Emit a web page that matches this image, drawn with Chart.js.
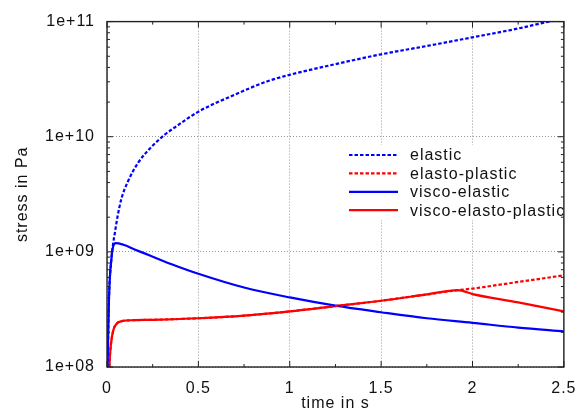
<!DOCTYPE html>
<html>
<head>
<meta charset="utf-8">
<script src="https://cdn.jsdelivr.net/npm/chart.js@4.4.1/dist/chart.umd.min.js"></script>
<style>
  html, body { margin: 0; padding: 0; background: #fff; }
  #chart { display: block; }
</style>
</head>
<body>
<canvas id="chart" width="587" height="413"></canvas>
<script>
// Stress response (Pa) over time (s) for four material models.
const elasticTime = [0.003, 0.011, 0.025, 0.034, 0.043, 0.0575, 0.079, 0.115, 0.169, 0.241, 0.3125, 0.3755, 0.5, 0.68, 0.878, 1.0, 1.25, 1.5, 1.75, 2.0, 2.25, 2.42, 2.5]
const elasticStress = [1.0e8, 4.0e8, 9.0e8, 1.19e9, 1.46e9, 2.02e9, 2.9e9, 4.1e9, 5.9e9, 8.1e9, 1.03e10, 1.22e10, 1.65e10, 2.25e10, 3.03e10, 3.45e10, 4.27e10, 5.2e10, 6.14e10, 7.3e10, 8.71e10, 1.0e11, 1.05e11]

const viscoElasticTime = [0.003, 0.011, 0.025, 0.034, 0.0485, 0.17, 0.35, 0.5, 0.75, 1.0, 1.25, 1.5, 1.75, 2.0, 2.25, 2.5]
const viscoElasticStress = [1.0e8, 4.0e8, 9.0e8, 1.12e9, 1.19e9, 1.02e9, 7.85e8, 6.45e8, 4.9e8, 4.02e8, 3.41e8, 2.99e8, 2.65e8, 2.42e8, 2.2e8, 2.04e8]

const viscoPlasticTime = [0.013, 0.016, 0.022, 0.034, 0.052, 0.08, 0.15, 0.25, 0.5, 0.75, 1.0, 1.25, 1.5, 1.75, 1.92, 2.0, 2.25, 2.5]
const viscoPlasticStress = [1.0e8, 1.25e8, 1.6e8, 2.07e8, 2.37e8, 2.5e8, 2.55e8, 2.57e8, 2.65e8, 2.79e8, 3.04e8, 3.38e8, 3.76e8, 4.27e8, 4.65e8, 4.3e8, 3.64e8, 3.04e8]

// elasto-plastic follows the visco-elasto-plastic curve up to t = 1.92 s
const elastoPlasticTime = [0.013, 0.016, 0.022, 0.034, 0.052, 0.08, 0.15, 0.25, 0.5, 0.75, 1.0, 1.25, 1.5, 1.75, 1.92, 2.0, 2.25, 2.5]
const elastoPlasticStress = [1.0e8, 1.25e8, 1.6e8, 2.07e8, 2.37e8, 2.5e8, 2.55e8, 2.57e8, 2.65e8, 2.79e8, 3.04e8, 3.38e8, 3.76e8, 4.27e8, 4.65e8, 4.8e8, 5.48e8, 6.25e8]

const seriesLabels = ["elastic", "elasto-plastic", "visco-elastic", "visco-elasto-plastic"]

const xTicks = [0, 0.5, 1, 1.5, 2, 2.5]
const yTicks = [1e8, 1e9, 1e10, 1e11]
const yTickLabels = ["1e+08", "1e+09", "1e+10", "1e+11"]

const BLUE = "rgb(0, 0, 255)"
const RED = "rgb(255, 0, 0)"
const FONT = { family: "\"Liberation Sans\", Arial, sans-serif", size: 16 }
const TEXT = "#111"

const points = (xs, ys) => xs.map((x, i) => ({ x, y: ys[i] }))

function series (label, xs, ys, color, dashed) {
  return {
    label,
    data: points(xs, ys),
    borderColor: color,
    backgroundColor: color,
    borderWidth: 2.2,
    borderDash: dashed ? [3.5, 2] : [],
    pointRadius: 0,
    cubicInterpolationMode: "monotone",
    fill: false
  }
}

// gnuplot-like text runs a little wider than plain Arial
const spacingPlugin = {
  id: "spacing",
  beforeDraw (chart) {
    chart.ctx.letterSpacing = "1px"
  }
}

// Key drawn inside the plot, on a white box over the grid.
const keyPlugin = {
  id: "key",
  afterDatasetsDraw (chart, args, opts) {
    const { ctx } = chart
    ctx.save()
    ctx.fillStyle = "#fff"
    ctx.fillRect(opts.boxLeft, opts.boxTop, opts.boxWidth, opts.boxHeight)
    ctx.font = `${FONT.size}px ${FONT.family}`
    ctx.textBaseline = "middle"
    ctx.textAlign = "left"
    chart.data.datasets.forEach((ds, i) => {
      const y = opts.y + i * opts.rowHeight
      ctx.beginPath()
      ctx.strokeStyle = ds.borderColor
      ctx.lineWidth = ds.borderWidth
      ctx.setLineDash(ds.borderDash)
      ctx.moveTo(opts.lineStart, y)
      ctx.lineTo(opts.lineEnd, y)
      ctx.stroke()
      ctx.setLineDash([])
      ctx.fillStyle = TEXT
      ctx.fillText(ds.label, opts.textX, y + 1)
    })
    ctx.restore()
  }
}

// Box border with inward major and minor tick marks on all four sides.
const framePlugin = {
  id: "frame",
  afterDraw (chart) {
    const { ctx, chartArea } = chart
    const { left, right, top, bottom } = chartArea
    const xs = chart.scales.x
    const ys = chart.scales.y
    const major = 6
    const minor = 3

    ctx.save()
    ctx.strokeStyle = "#222"
    ctx.lineWidth = 1

    ctx.beginPath()
    const xMinor = xTicks.slice(1).map((v, i) => (v + xTicks[i]) / 2)
    xTicks.forEach(v => {
      const px = xs.getPixelForValue(v)
      ctx.moveTo(px, bottom); ctx.lineTo(px, bottom - major)
      ctx.moveTo(px, top); ctx.lineTo(px, top + major)
    })
    xMinor.forEach(v => {
      const px = xs.getPixelForValue(v)
      ctx.moveTo(px, bottom); ctx.lineTo(px, bottom - minor)
      ctx.moveTo(px, top); ctx.lineTo(px, top + minor)
    })
    yTicks.forEach(v => {
      const py = ys.getPixelForValue(v)
      ctx.moveTo(left, py); ctx.lineTo(left + major, py)
      ctx.moveTo(right, py); ctx.lineTo(right - major, py)
    })
    yTicks.slice(0, -1).forEach(decade => {
      for (let k = 2; k <= 9; k++) {
        const py = ys.getPixelForValue(decade * k)
        ctx.moveTo(left, py); ctx.lineTo(left + minor, py)
        ctx.moveTo(right, py); ctx.lineTo(right - minor, py)
      }
    })
    ctx.stroke()

    ctx.lineWidth = 1.4
    ctx.strokeRect(left, top, right - left, bottom - top)
    ctx.restore()
  }
}

new Chart(document.getElementById("chart").getContext("2d"), {
  type: "line",
  data: {
    datasets: [
      series(seriesLabels[0], elasticTime, elasticStress, BLUE, true),
      series(seriesLabels[1], elastoPlasticTime, elastoPlasticStress, RED, true),
      series(seriesLabels[2], viscoElasticTime, viscoElasticStress, BLUE, false),
      series(seriesLabels[3], viscoPlasticTime, viscoPlasticStress, RED, false)
    ]
  },
  options: {
    responsive: false,
    animation: false,
    events: [],
    layout: { padding: { top: 18, right: 16, left: 0, bottom: 0 } },
    plugins: {
      legend: { display: false },
      tooltip: { enabled: false },
      key: {
        boxLeft: 343, boxTop: 145, boxWidth: 227, boxHeight: 75,
        y: 155, rowHeight: 18.4, lineStart: 349, lineEnd: 398, textX: 410
      }
    },
    scales: {
      x: {
        type: "linear",
        min: 0,
        max: 2.5,
        afterBuildTicks: scale => { scale.ticks = xTicks.map(value => ({ value })) },
        afterFit: scale => { scale.height = 46 },
        ticks: {
          autoSkip: false,
          maxRotation: 0,
          padding: 12,
          color: TEXT,
          font: FONT,
          callback: value => String(value)
        },
        grid: { color: "rgba(140, 140, 140, 0.9)", lineWidth: 1, drawTicks: false },
        border: { display: false, dash: [1, 2] },
        title: {
          display: true,
          text: "time in s",
          color: TEXT,
          font: FONT,
          padding: { top: 0, bottom: 0 }
        }
      },
      y: {
        type: "logarithmic",
        min: 1e8,
        max: 1e11,
        afterBuildTicks: scale => { scale.ticks = yTicks.map(value => ({ value })) },
        afterFit: scale => { scale.width = 107 },
        ticks: {
          autoSkip: false,
          padding: 12,
          color: TEXT,
          font: FONT,
          callback: value => yTickLabels[yTicks.indexOf(value)] ?? ""
        },
        grid: { color: "rgba(140, 140, 140, 0.9)", lineWidth: 1, drawTicks: false },
        border: { display: false, dash: [1, 2] },
        title: {
          display: true,
          text: "stress in Pa",
          color: TEXT,
          font: FONT,
          padding: { top: 13, bottom: 0 }
        }
      }
    }
  },
  plugins: [spacingPlugin, keyPlugin, framePlugin]
})
</script>
</body>
</html>
